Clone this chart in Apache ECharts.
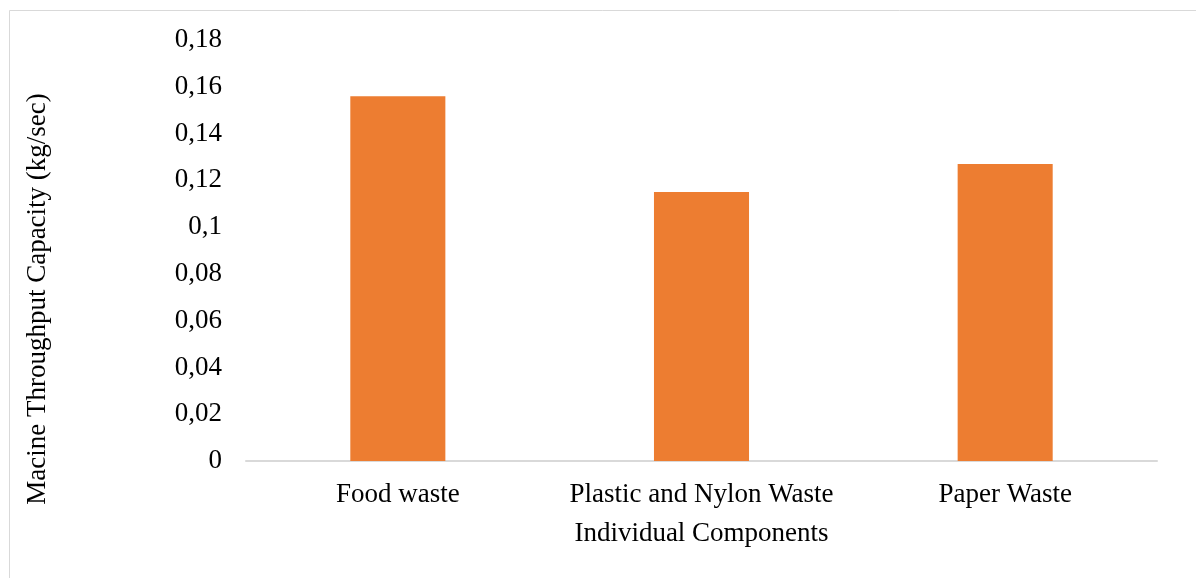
<!DOCTYPE html>
<html>
<head>
<meta charset="utf-8">
<script src="https://cdn.jsdelivr.net/npm/echarts@6/dist/echarts.min.js"></script>
<style>
html,body{margin:0;padding:0;background:#fff;}
#chart{width:1196px;height:578px;}
</style>
</head>
<body>
<div id="chart"></div>
<script>
const categories = ['Food waste', 'Plastic and Nylon Waste', 'Paper Waste'];
const throughput = [0.156, 0.115, 0.127];
const yTickLabels = ['0', '0,02', '0,04', '0,06', '0,08', '0,1', '0,12', '0,14', '0,16', '0,18'];

const font = 'Liberation Serif, Times New Roman, serif';
const chart = echarts.init(document.getElementById('chart'));
chart.setOption({
  animation: false,
  backgroundColor: '#fff',
  graphic: [
    {type: 'line', shape: {x1: 9.5, y1: 10.5, x2: 1196, y2: 10.5}, style: {stroke: '#d9d9d9', lineWidth: 1}},
    {type: 'line', shape: {x1: 9.5, y1: 10.5, x2: 9.5, y2: 578}, style: {stroke: '#d9d9d9', lineWidth: 1}}
  ],
  grid: {left: 246, right: 39, top: 40, bottom: 117},
  xAxis: {
    type: 'category',
    data: categories,
    axisLine: {lineStyle: {color: '#d9d9d9', width: 2}},
    axisTick: {show: false},
    axisLabel: {color: '#000', fontFamily: font, fontSize: 27, margin: 20, interval: 0},
    name: 'Individual Components',
    nameLocation: 'middle',
    nameGap: 59,
    nameTextStyle: {color: '#000', fontFamily: font, fontSize: 27}
  },
  yAxis: {
    type: 'value',
    min: 0, max: 0.18, interval: 0.02,
    splitLine: {show: false},
    axisLine: {show: false},
    axisTick: {show: false},
    axisLabel: {
      color: '#000', fontFamily: font, fontSize: 27, margin: 24,
      formatter: function (v) { return yTickLabels[Math.round(v / 0.02)]; }
    },
    name: 'Macine Throughput Capacity (kg/sec)',
    nameLocation: 'middle',
    nameGap: 195,
    nameTextStyle: {color: '#000', fontFamily: font, fontSize: 27, padding: [0, 97, 0, 0]}
  },
  series: [{
    type: 'bar',
    data: throughput,
    barWidth: '31.3%',
    itemStyle: {color: '#ED7D31'}
  }]
});
</script>
</body>
</html>
